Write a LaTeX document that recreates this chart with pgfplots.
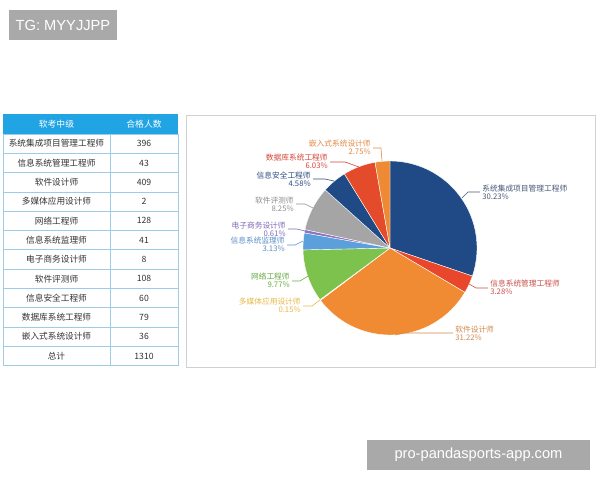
\documentclass[border=0pt]{standalone}
\usepackage{fontspec}
\setmainfont{Liberation Sans}
\newfontfamily\cjk{Noto Sans CJK SC}
\usepackage{pgfplots}
\usepackage{pgfplotstable}
\pgfplotsset{compat=1.18}

\definecolor{pc0}{HTML}{1F4A85}
\definecolor{pc1}{HTML}{E8472C}
\definecolor{pc2}{HTML}{F08A33}
\definecolor{pc3}{HTML}{F8C93B}
\definecolor{pc4}{HTML}{7CC24C}
\definecolor{pc5}{HTML}{5B9FDB}
\definecolor{pc6}{HTML}{8E72C4}
\definecolor{pc7}{HTML}{A5A5A5}
\definecolor{pc8}{HTML}{1F4A85}
\definecolor{pc9}{HTML}{E44B2A}
\definecolor{pc10}{HTML}{EE8A34}

\definecolor{lc0}{HTML}{4A5A78}
\definecolor{lc1}{HTML}{C9504A}
\definecolor{lc2}{HTML}{D28A4F}
\definecolor{lc3}{HTML}{E8B94A}
\definecolor{lc4}{HTML}{6AAA45}
\definecolor{lc5}{HTML}{5D8FC9}
\definecolor{lc6}{HTML}{8369B8}
\definecolor{lc7}{HTML}{8F8F8F}
\definecolor{lc8}{HTML}{2E4D80}
\definecolor{lc9}{HTML}{D5473A}
\definecolor{lc10}{HTML}{E08A45}

\definecolor{hdr}{HTML}{20A4E4}
\definecolor{grid}{HTML}{9DCBE8}
\definecolor{wm}{HTML}{A9A9A9}

\pgfplotstableread[col sep=comma]{
name,n,pct
系统集成项目管理工程师,396,30.23
信息系统管理工程师,43,3.28
软件设计师,409,31.22
多媒体应用设计师,2,0.15
网络工程师,128,9.77
信息系统监理师,41,3.13
电子商务设计师,8,0.61
软件评测师,108,8.25
信息安全工程师,60,4.58
数据库系统工程师,79,6.03
嵌入式系统设计师,36,2.75
}\exam

\def\total{0}
\pgfplotsforeachungrouped \i in {0,...,10}{%
  \pgfplotstablegetelem{\i}{n}\of\exam
  \pgfmathtruncatemacro\total{\total+\pgfplotsretval}%
}

\newcommand\lab[5]{%
  \pgfplotstablegetelem{#1}{name}\of\exam\let\nm\pgfplotsretval
  \pgfplotstablegetelem{#1}{pct}\of\exam\let\pcv\pgfplotsretval
  \node[anchor=#2, align=#3, inner sep=0pt, text=lc#1,
        font=\cjk\fontsize{5.8}{6.1}\selectfont] at (#4,#5) {\nm\\\pcv\%};%
}

\begin{document}
\begin{tikzpicture}[x=0.75pt, y=-0.75pt]
\fill[white] (0,0) rectangle (600,480);
\path[use as bounding box] (0,0) rectangle (600,480);

% watermarks
\fill[wm] (9,10) rectangle (117,40);
\node[text=white, font=\fontsize{11}{13}\selectfont, inner sep=0pt] at (63,25) {TG: MYYJJPP};
\fill[wm] (367,440) rectangle (590,470);
\node[text=white, font=\fontsize{11}{13}\selectfont, inner sep=0pt] at (478.5,455) {pro-pandasports-app.com};

% table
\fill[hdr] (3,114) rectangle (178,134);
\node[text=white, font=\cjk\fontsize{6.6}{7}\selectfont] at (56.5,124) {软考中级};
\node[text=white, font=\cjk\fontsize{6.6}{7}\selectfont] at (144,124) {合格人数};
\foreach \k in {0,...,12}{
  \draw[grid, line width=0.5pt] (3,{134+19.3*\k}) -- (178,{134+19.3*\k});
}
\foreach \xx in {3,110,178}{
  \draw[grid, line width=0.5pt] (\xx,134) -- (\xx,{134+19.3*12});
}
\foreach \i in {0,...,10}{
  \pgfplotstablegetelem{\i}{name}\of\exam\let\nm\pgfplotsretval
  \pgfplotstablegetelem{\i}{n}\of\exam\let\nv\pgfplotsretval
  \node[text=black!80, font=\cjk\fontsize{6.5}{7}\selectfont] at (56.5,{134+19.3*(\i+0.5)}) {\nm};
  \node[text=black!80, font=\cjk\fontsize{6.5}{7}\selectfont] at (144,{134+19.3*(\i+0.5)}) {\nv};
}
\node[text=black!80, font=\cjk\fontsize{6.5}{7}\selectfont] at (56.5,{134+19.3*11.5}) {总计};
\node[text=black!80, font=\cjk\fontsize{6.5}{7}\selectfont] at (144,{134+19.3*11.5}) {\total};

% chart panel
\draw[black!18, line width=0.6pt] (186,115) rectangle (595,367);

% pie
\coordinate (pc) at (390,248);
\def\cum{0}
\begin{axis}[at={(pc)}, anchor=origin, hide axis, clip=false,
  x=65.25pt, y=65.25pt, xmin=-1.05, xmax=1.05, ymin=-1.05, ymax=1.05]
\pgfplotsforeachungrouped \i in {0,...,10}{%
  \pgfplotstablegetelem{\i}{n}\of\exam\let\v\pgfplotsretval
  \pgfmathsetmacro\s{90-360*(\cum/\total)}%
  \pgfmathsetmacro\cumnew{\cum+\v}%
  \let\cum\cumnew
  \pgfmathsetmacro\e{90-360*(\cum/\total)}%
  \pgfmathtruncatemacro\ns{max(3,ceil((\s-\e)/1.5)+2)}%
  \edef\temp{\noexpand\addplot[draw=white, line width=0.3pt, fill=pc\i, domain=\e:\s, samples=\ns] ({cos(x)},{sin(x)}) -- (axis cs:0,0) -- cycle;}%
  \temp
}
\end{axis}

% labels and leaders
\begin{scope}[line width=0.45pt]
\draw[lc0] (462,198) -- (468,192) -- (480,192);
\lab{0}{west}{left}{482}{192}
\draw[lc1] (469,284) -- (476,288) -- (488,288);
\lab{1}{west}{left}{490}{287.5}
\draw[lc2] (395,335) -- (404,333) -- (453,333);
\lab{2}{west}{left}{455}{333}
\draw[lc3] (320,300) -- (312,306) -- (303,306);
\lab{3}{east}{right}{301}{305}
\draw[lc4] (308,276) -- (300,281) -- (292,281);
\lab{4}{east}{right}{290}{280.5}
\draw[lc5] (303,241) -- (295,245) -- (287,245);
\lab{5}{east}{right}{285}{244.5}
\draw[lc6] (305,231) -- (297,229) -- (288,229);
\lab{6}{east}{right}{286}{229}
\draw[lc7] (313,208) -- (305,204) -- (296,204);
\lab{7}{east}{right}{294}{204}
\draw[lc8] (334,181) -- (325,179) -- (313,179);
\lab{8}{east}{right}{311}{179}
\draw[lc9] (359,167) -- (345,162) -- (330,162);
\lab{9}{east}{right}{328}{161.5}
\draw[lc10] (382,161) -- (381,148) -- (373,148);
\lab{10}{east}{right}{371}{147}
\end{scope}
\end{tikzpicture}
\end{document}
